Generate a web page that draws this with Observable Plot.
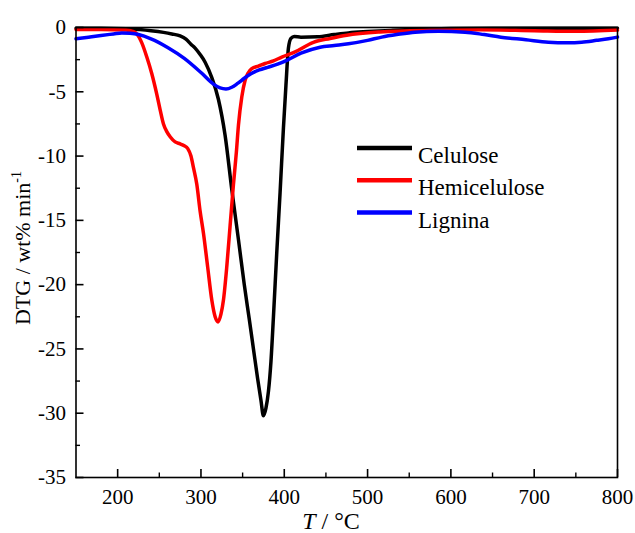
<!DOCTYPE html>
<html>
<head>
<meta charset="utf-8">
<script src="https://cdn.jsdelivr.net/npm/d3@7"></script>
<script src="https://cdn.jsdelivr.net/npm/@observablehq/plot@0.6"></script>
<style>
  body { margin: 0; background: #fff; }
  #chart { width: 635px; height: 533px; }
</style>
</head>
<body>
<div id="chart"></div>
<script>
// ---- Data ----
const seriesNames = ["Celulose", "Hemicelulose", "Lignina"];
const seriesColors = ["#000000", "#ff0000", "#0000ff"];

const celT = [150,180,210,240,255,265,275,282,288,293,299,305,313,321,329,337,345,352,358,363,368,372,375,378,381,384,387,391,395,399,402,405,408,412,420,440,460,477,500,530,560,600,650,700,750,800];
const celY = [-0.05,-0.05,-0.1,-0.25,-0.38,-0.5,-0.65,-0.9,-1.3,-1.6,-2.1,-2.7,-3.9,-5.6,-8.4,-12.6,-16.5,-20.0,-22.7,-25.0,-27.3,-29.0,-30.2,-29.6,-28.3,-26.0,-22.5,-17.5,-12.8,-7.8,-4.5,-1.6,-0.85,-0.7,-0.75,-0.72,-0.55,-0.42,-0.32,-0.22,-0.14,-0.08,-0.05,-0.05,-0.05,-0.05];

const hemT = [150,180,210,218,223,229,235,241,247,251,255,259,263,269,275,280,284,288,291,295,299,303,308,313,317,320.6,324,327,331,335,339,342.5,345,349,353,357,361,369,377,387,397,413,435,455,475,515,575,635,700,750,800];
const hemY = [-0.15,-0.15,-0.2,-0.3,-0.5,-1.2,-2.3,-3.6,-5.2,-6.4,-7.5,-8.1,-8.5,-8.9,-9.05,-9.2,-9.4,-10.0,-10.9,-12.2,-14.3,-16.0,-18.6,-21.2,-22.5,-22.9,-22.3,-21.2,-18.6,-15.4,-12.2,-9.7,-7.6,-5.4,-4.1,-3.5,-3.2,-3.0,-2.8,-2.6,-2.3,-1.9,-1.15,-0.85,-0.6,-0.35,-0.22,-0.18,-0.25,-0.3,-0.2];

const ligT = [150,165,180,195,205,215,225,240,260,280,300,315,323,330,337,344,352,360,370,380,392,403,420,443,460,477,500,517,535,557,585,617,640,660,690,717,740,757,775,789,800];
const ligY = [-0.88,-0.75,-0.62,-0.5,-0.42,-0.45,-0.55,-0.88,-1.55,-2.4,-3.5,-4.4,-4.7,-4.78,-4.65,-4.35,-3.95,-3.6,-3.3,-3.1,-2.85,-2.55,-2.0,-1.53,-1.4,-1.27,-1.0,-0.75,-0.55,-0.36,-0.3,-0.36,-0.55,-0.75,-0.95,-1.14,-1.18,-1.14,-1.0,-0.88,-0.75];

const xTicks = [200,300,400,500,600,700,800];
const xMinor = [250,350,450,550,650,750];
const yTicks = [0,-5,-10,-15,-20,-25,-30,-35];
const yMinor = [-2.5,-7.5,-12.5,-17.5,-22.5,-27.5,-32.5];

const xTitleItalic = "T";
const xTitleRest = " / °C";
const yTitleMain = "DTG / wt% min";
const yTitleSup = "-1";

// ---- Build table ----
const rows = (name, T, Y) => T.map((t, i) => ({series: name, T: t, DTG: Y[i]}));
const data = [
  ...rows(seriesNames[0], celT, celY),
  ...rows(seriesNames[1], hemT, hemY),
  ...rows(seriesNames[2], ligT, ligY)
];

const serif = "'Liberation Serif','Times New Roman',serif";
const majorLen = 8, minorLen = 4.5;

const chart = Plot.plot({
  width: 635,
  height: 533,
  marginLeft: 75.5,
  marginRight: 18,
  marginTop: 27,
  marginBottom: 56,
  style: {fontFamily: serif, fontSize: "21px", background: "#fff", color: "#000", overflow: "visible"},
  x: {domain: [150, 800]},
  y: {domain: [-35, 0]},
  color: {domain: seriesNames, range: seriesColors},
  marks: [
    Plot.line(data, {x: "T", y: "DTG", z: "series", stroke: "series", strokeWidth: 3.5, curve: "monotone-x"}),
    Plot.frame({stroke: "#000", strokeWidth: 1.6}),
    // inward major / minor ticks (outward ticks shifted inside)
    Plot.axisX(xTicks, {anchor: "bottom", tickSize: majorLen, dy: -majorLen, fill: "none", label: null, strokeWidth: 1.6}),
    Plot.axisX(xMinor, {anchor: "bottom", tickSize: minorLen, dy: -minorLen, fill: "none", label: null, strokeWidth: 1.4}),
    Plot.axisY(yTicks, {anchor: "left", tickSize: majorLen, dx: majorLen, fill: "none", label: null, strokeWidth: 1.6}),
    Plot.axisY(yMinor, {anchor: "left", tickSize: minorLen, dx: minorLen, fill: "none", label: null, strokeWidth: 1.4}),
    // tick labels
    Plot.axisX(xTicks, {anchor: "bottom", tickSize: 0, tickPadding: 12, tickFormat: d => String(d), label: null, fontSize: 21}),
    Plot.axisY(yTicks, {anchor: "left", tickSize: 0, tickPadding: 10, tickFormat: d => String(d), label: null, fontSize: 21})
  ]
});

document.getElementById("chart").appendChild(chart);

// ---- Axis titles and legend (real text) ----
const svg = d3.select(chart);

const yt = svg.append("text")
  .attr("transform", "translate(30,248) rotate(-90)")
  .attr("text-anchor", "middle")
  .attr("font-family", serif)
  .attr("font-size", 22)
  .attr("fill", "#000");
yt.append("tspan").text(yTitleMain);
yt.append("tspan").attr("dy", -9).attr("font-size", 14).text(yTitleSup);

const xt = svg.append("text")
  .attr("x", 331).attr("y", 529)
  .attr("text-anchor", "middle")
  .attr("font-family", serif)
  .attr("font-size", 24)
  .attr("fill", "#000");
xt.append("tspan").attr("font-style", "italic").text(xTitleItalic);
xt.append("tspan").text(xTitleRest);

const lg = svg.append("g").attr("font-family", serif).attr("font-size", 23).attr("text-anchor", "start");
seriesNames.forEach((name, i) => {
  const yLine = 148 + i * 32.3;
  lg.append("line")
    .attr("x1", 357).attr("x2", 412)
    .attr("y1", yLine).attr("y2", yLine)
    .attr("stroke", seriesColors[i]).attr("stroke-width", 4.5);
  lg.append("text")
    .attr("x", 418).attr("y", yLine + 15)
    .attr("text-anchor", "start")
    .attr("fill", "#000")
    .text(name);
});
</script>
</body>
</html>
